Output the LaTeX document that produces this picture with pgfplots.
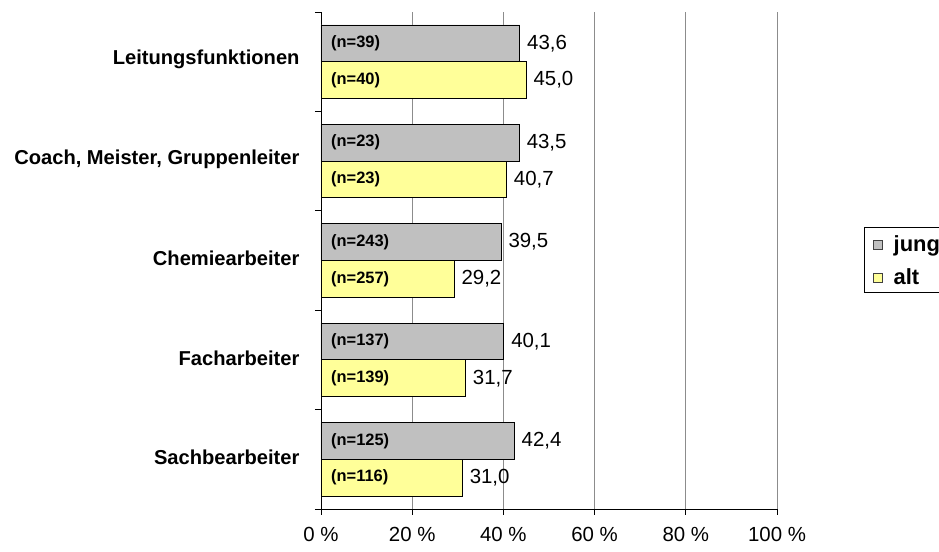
\documentclass[border=0pt]{standalone}
\usepackage{pgfplots}
\pgfplotsset{compat=1.18}
\usepackage{fontspec}
\setmainfont{Liberation Sans}
\definecolor{barGray}{HTML}{C0C0C0}
\definecolor{barYellow}{HTML}{FFFF99}
\definecolor{gridGray}{HTML}{8C8C8C}
\tikzset{nlab/.style={anchor=west, inner sep=0pt, xshift=10bp, font=\bfseries\fontsize{16.5}{17}\selectfont}}
\begin{document}
\begin{tikzpicture}
\useasboundingbox (-321bp,-43bp) rectangle (618bp,509bp);
\begin{axis}[
  at={(0,0)}, anchor=south west,
  scale only axis, width=456bp, height=497bp,
  xmin=0, xmax=100, ymin=-0.5, ymax=4.5,
  xbar, bar width=0.37,
  axis x line*=bottom, axis y line*=left,
  axis line style={black, line width=0.8bp},
  xtick={0,20,40,60,80,100},
  xticklabels={0 \%,20 \%,40 \%,60 \%,80 \%,100 \%},
  xticklabel style={font=\fontsize{20.5}{21}\selectfont, yshift=-9bp},
  xmajorgrids, major grid style={gridGray, line width=0.8bp},
  ytick={-0.5,0.5,1.5,2.5,3.5,4.5},
  yticklabels={},
  extra y ticks={0,1,2,3,4},
  extra y tick labels={Sachbearbeiter,Facharbeiter,Chemiearbeiter,{Coach, Meister, Gruppenleiter},Leitungsfunktionen},
  extra y tick style={major tick length=0pt, yticklabel style={font=\bfseries\fontsize{20.2}{21}\selectfont, xshift=-18bp, yshift=2bp}},
  tick align=outside, major tick length=6bp,
  tick style={black, line width=0.8bp},
  nodes near coords={\pgfmathprintnumber[fixed,zerofill,precision=1,use comma,assume math mode=true]{\pgfplotspointmeta}},
  nodes near coords style={font=\fontsize{20.5}{21}\selectfont, anchor=west, inner sep=0pt, xshift=7bp},
  legend style={at={(1.1908,0.5674)}, anchor=north west, draw=black, line width=0.8bp,
    font=\bfseries\fontsize{22}{23}\selectfont, inner xsep=3bp, inner ysep=4.5bp,
    column sep=11bp, row sep=10bp,
    nodes={inner sep=0pt, text height=19.5bp, text depth=3.5bp}},
  legend cell align=left,
  clip=false,
]
\addplot[fill=barGray, draw=black, line width=0.8bp, bar shift=0.185,
  legend image code/.code={\path (-6bp,0bp); \draw[fill=barGray, draw=black!75, line width=0.8bp] (0bp,-5.75bp) rectangle (8.5bp,2.75bp);}]
  coordinates {(42.4,0) (40.1,1) (39.5,2) (43.5,3) (43.6,4)};
\addlegendentry{jung}
\addplot[fill=barYellow, draw=black, line width=0.8bp, bar shift=-0.185,
  legend image code/.code={\path (-6bp,0bp); \draw[fill=barYellow, draw=black!75, line width=0.8bp] (0bp,-5.75bp) rectangle (8.5bp,2.75bp);}]
  coordinates {(31.0,0) (31.7,1) (29.2,2) (40.7,3) (45.0,4)};
\addlegendentry{alt}
\node[nlab] at (axis cs:0,4.185) {(n=39)};
\node[nlab] at (axis cs:0,3.815) {(n=40)};
\node[nlab] at (axis cs:0,3.185) {(n=23)};
\node[nlab] at (axis cs:0,2.815) {(n=23)};
\node[nlab] at (axis cs:0,2.185) {(n=243)};
\node[nlab] at (axis cs:0,1.815) {(n=257)};
\node[nlab] at (axis cs:0,1.185) {(n=137)};
\node[nlab] at (axis cs:0,0.815) {(n=139)};
\node[nlab] at (axis cs:0,0.185) {(n=125)};
\node[nlab] at (axis cs:0,-0.185) {(n=116)};
\end{axis}
\end{tikzpicture}
\end{document}
